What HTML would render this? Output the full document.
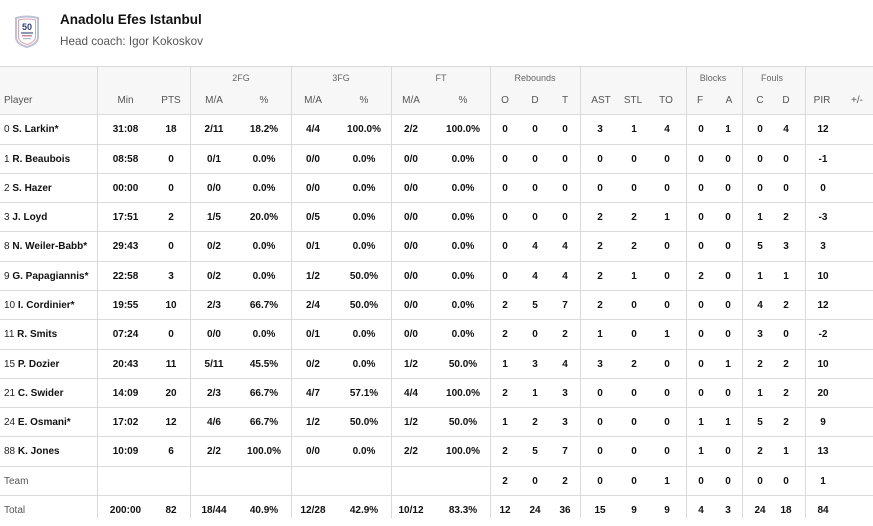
<!DOCTYPE html>
<html>
<head>
<meta charset="utf-8">
<style>
html,body{margin:0;padding:0;background:#fff;}
body{width:873px;height:518px;overflow:hidden;position:relative;font-family:"Liberation Sans",Arial,sans-serif;color:#111;}
.title{position:absolute;left:60px;top:12px;font-size:13.5px;font-weight:bold;color:#111;white-space:nowrap;}
.sub{position:absolute;left:60px;top:35px;font-size:11.7px;color:#555;white-space:nowrap;}
.hdr{position:absolute;left:0;top:66px;width:873px;height:48px;background:#f7f7f7;border-top:1px solid #dadada;box-sizing:border-box;}
.vl{position:absolute;top:66px;width:1px;height:452px;background:#dadada;}
.g{position:absolute;top:72px;font-size:9px;color:#666;transform:translateX(-50%);white-space:nowrap;line-height:12px;}
.h{position:absolute;top:94px;font-size:10px;color:#555;transform:translateX(-50%);white-space:nowrap;line-height:14px;}
.row{position:absolute;left:0;width:873px;height:30px;border-top:1px solid #dadada;}
.row span{position:absolute;top:0;line-height:29px;font-size:10px;font-weight:bold;color:#111;transform:translateX(-50%);white-space:nowrap;}
.row span:nth-child(1){left:4px;transform:none;}
.row span:nth-child(1) i{font-style:normal;font-weight:normal;color:#222;}
.row span.n{font-weight:normal;color:#555;}
.row span:nth-child(2){left:125.5px}
.row span:nth-child(3){left:171px}
.row span:nth-child(4){left:214px}
.row span:nth-child(5){left:264px}
.row span:nth-child(6){left:313px}
.row span:nth-child(7){left:364px}
.row span:nth-child(8){left:411px}
.row span:nth-child(9){left:463px}
.row span:nth-child(10){left:505px}
.row span:nth-child(11){left:535px}
.row span:nth-child(12){left:565px}
.row span:nth-child(13){left:600px}
.row span:nth-child(14){left:634px}
.row span:nth-child(15){left:667px}
.row span:nth-child(16){left:701px}
.row span:nth-child(17){left:728px}
.row span:nth-child(18){left:760px}
.row span:nth-child(19){left:786px}
.row span:nth-child(20){left:823px}
.row span:nth-child(21){left:857px}
</style>
</head>
<body>
<svg style="position:absolute;left:13px;top:15px" width="28" height="34" viewBox="0 0 28 34">
<path d="M3 3 Q14 0 25 3 L25 22 Q25 29 14 32 Q3 29 3 22 Z" fill="#fff" stroke="#b9c2d6" stroke-width="2"/>
<path d="M5.5 5 Q14 3 22.5 5 L22.5 21.5 Q22.5 27 14 29.5 Q5.5 27 5.5 21.5 Z" fill="#fff" stroke="#e2a0a8" stroke-width="1"/>
<text x="9" y="15" font-family="Liberation Sans, sans-serif" font-size="9" font-weight="bold" fill="#2b3f7a">50</text>
<rect x="8" y="17" width="12" height="2" fill="#8a97b8"/>
<rect x="9" y="20" width="10" height="1.5" fill="#c88a96"/>
<rect x="10" y="23" width="8" height="1.2" fill="#b0b8cc"/>
</svg>
<div class="title">Anadolu Efes Istanbul</div>
<div class="sub">Head coach: Igor Kokoskov</div>

<div class="hdr"></div>
<div class="g" style="left:241px">2FG</div>
<div class="g" style="left:341px">3FG</div>
<div class="g" style="left:441px">FT</div>
<div class="g" style="left:535px">Rebounds</div>
<div class="g" style="left:713px">Blocks</div>
<div class="g" style="left:772px">Fouls</div>

<div class="h" style="left:4px;transform:none">Player</div>
<div class="h" style="left:125.5px">Min</div>
<div class="h" style="left:171px">PTS</div>
<div class="h" style="left:214px">M/A</div>
<div class="h" style="left:264px">%</div>
<div class="h" style="left:313px">M/A</div>
<div class="h" style="left:364px">%</div>
<div class="h" style="left:411px">M/A</div>
<div class="h" style="left:463px">%</div>
<div class="h" style="left:505px">O</div>
<div class="h" style="left:535px">D</div>
<div class="h" style="left:565px">T</div>
<div class="h" style="left:601px">AST</div>
<div class="h" style="left:633px">STL</div>
<div class="h" style="left:666px">TO</div>
<div class="h" style="left:700px">F</div>
<div class="h" style="left:729px">A</div>
<div class="h" style="left:760px">C</div>
<div class="h" style="left:786px">D</div>
<div class="h" style="left:822px">PIR</div>
<div class="h" style="left:857px">+/-</div>

<div class="row" style="top:114px"><span><i>0</i> S. Larkin*</span><span>31:08</span><span>18</span><span>2/11</span><span>18.2%</span><span>4/4</span><span>100.0%</span><span>2/2</span><span>100.0%</span><span>0</span><span>0</span><span>0</span><span>3</span><span>1</span><span>4</span><span>0</span><span>1</span><span>0</span><span>4</span><span>12</span><span></span></div>
<div class="row" style="top:144px"><span><i>1</i> R. Beaubois</span><span>08:58</span><span>0</span><span>0/1</span><span>0.0%</span><span>0/0</span><span>0.0%</span><span>0/0</span><span>0.0%</span><span>0</span><span>0</span><span>0</span><span>0</span><span>0</span><span>0</span><span>0</span><span>0</span><span>0</span><span>0</span><span>-1</span><span></span></div>
<div class="row" style="top:173px"><span><i>2</i> S. Hazer</span><span>00:00</span><span>0</span><span>0/0</span><span>0.0%</span><span>0/0</span><span>0.0%</span><span>0/0</span><span>0.0%</span><span>0</span><span>0</span><span>0</span><span>0</span><span>0</span><span>0</span><span>0</span><span>0</span><span>0</span><span>0</span><span>0</span><span></span></div>
<div class="row" style="top:202px"><span><i>3</i> J. Loyd</span><span>17:51</span><span>2</span><span>1/5</span><span>20.0%</span><span>0/5</span><span>0.0%</span><span>0/0</span><span>0.0%</span><span>0</span><span>0</span><span>0</span><span>2</span><span>2</span><span>1</span><span>0</span><span>0</span><span>1</span><span>2</span><span>-3</span><span></span></div>
<div class="row" style="top:231px"><span><i>8</i> N. Weiler-Babb*</span><span>29:43</span><span>0</span><span>0/2</span><span>0.0%</span><span>0/1</span><span>0.0%</span><span>0/0</span><span>0.0%</span><span>0</span><span>4</span><span>4</span><span>2</span><span>2</span><span>0</span><span>0</span><span>0</span><span>5</span><span>3</span><span>3</span><span></span></div>
<div class="row" style="top:261px"><span><i>9</i> G. Papagiannis*</span><span>22:58</span><span>3</span><span>0/2</span><span>0.0%</span><span>1/2</span><span>50.0%</span><span>0/0</span><span>0.0%</span><span>0</span><span>4</span><span>4</span><span>2</span><span>1</span><span>0</span><span>2</span><span>0</span><span>1</span><span>1</span><span>10</span><span></span></div>
<div class="row" style="top:290px"><span><i>10</i> I. Cordinier*</span><span>19:55</span><span>10</span><span>2/3</span><span>66.7%</span><span>2/4</span><span>50.0%</span><span>0/0</span><span>0.0%</span><span>2</span><span>5</span><span>7</span><span>2</span><span>0</span><span>0</span><span>0</span><span>0</span><span>4</span><span>2</span><span>12</span><span></span></div>
<div class="row" style="top:319px"><span><i>11</i> R. Smits</span><span>07:24</span><span>0</span><span>0/0</span><span>0.0%</span><span>0/1</span><span>0.0%</span><span>0/0</span><span>0.0%</span><span>2</span><span>0</span><span>2</span><span>1</span><span>0</span><span>1</span><span>0</span><span>0</span><span>3</span><span>0</span><span>-2</span><span></span></div>
<div class="row" style="top:349px"><span><i>15</i> P. Dozier</span><span>20:43</span><span>11</span><span>5/11</span><span>45.5%</span><span>0/2</span><span>0.0%</span><span>1/2</span><span>50.0%</span><span>1</span><span>3</span><span>4</span><span>3</span><span>2</span><span>0</span><span>0</span><span>1</span><span>2</span><span>2</span><span>10</span><span></span></div>
<div class="row" style="top:378px"><span><i>21</i> C. Swider</span><span>14:09</span><span>20</span><span>2/3</span><span>66.7%</span><span>4/7</span><span>57.1%</span><span>4/4</span><span>100.0%</span><span>2</span><span>1</span><span>3</span><span>0</span><span>0</span><span>0</span><span>0</span><span>0</span><span>1</span><span>2</span><span>20</span><span></span></div>
<div class="row" style="top:407px"><span><i>24</i> E. Osmani*</span><span>17:02</span><span>12</span><span>4/6</span><span>66.7%</span><span>1/2</span><span>50.0%</span><span>1/2</span><span>50.0%</span><span>1</span><span>2</span><span>3</span><span>0</span><span>0</span><span>0</span><span>1</span><span>1</span><span>5</span><span>2</span><span>9</span><span></span></div>
<div class="row" style="top:436px"><span><i>88</i> K. Jones</span><span>10:09</span><span>6</span><span>2/2</span><span>100.0%</span><span>0/0</span><span>0.0%</span><span>2/2</span><span>100.0%</span><span>2</span><span>5</span><span>7</span><span>0</span><span>0</span><span>0</span><span>1</span><span>0</span><span>2</span><span>1</span><span>13</span><span></span></div>
<div class="row" style="top:466px"><span class="n">Team</span><span></span><span></span><span></span><span></span><span></span><span></span><span></span><span></span><span>2</span><span>0</span><span>2</span><span>0</span><span>0</span><span>1</span><span>0</span><span>0</span><span>0</span><span>0</span><span>1</span><span></span></div>
<div class="row" style="top:495px"><span class="n">Total</span><span>200:00</span><span>82</span><span>18/44</span><span>40.9%</span><span>12/28</span><span>42.9%</span><span>10/12</span><span>83.3%</span><span>12</span><span>24</span><span>36</span><span>15</span><span>9</span><span>9</span><span>4</span><span>3</span><span>24</span><span>18</span><span>84</span><span></span></div>

<div class="vl" style="left:97px"></div>
<div class="vl" style="left:190px"></div>
<div class="vl" style="left:291px"></div>
<div class="vl" style="left:391px"></div>
<div class="vl" style="left:490px"></div>
<div class="vl" style="left:580px"></div>
<div class="vl" style="left:686px"></div>
<div class="vl" style="left:742px"></div>
<div class="vl" style="left:805px"></div>
</body>
</html>
